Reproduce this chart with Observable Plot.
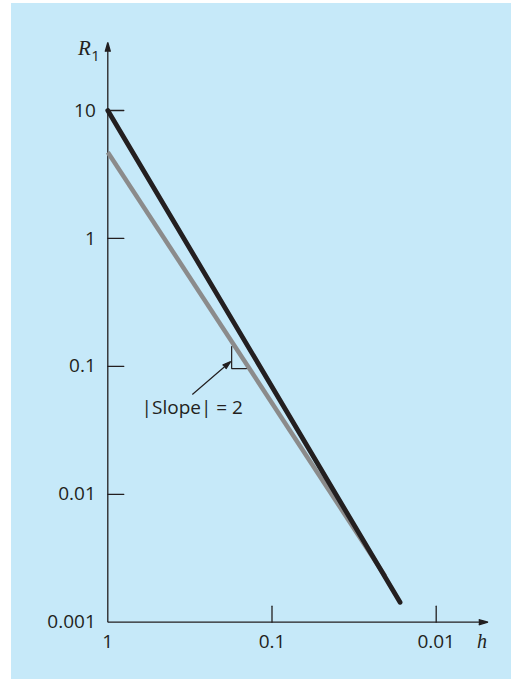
<!DOCTYPE html>
<html><head><meta charset="utf-8">
<script src="https://cdn.jsdelivr.net/npm/d3@7"></script>
<script src="https://cdn.jsdelivr.net/npm/@observablehq/plot@0.6"></script>
<style>
html,body{margin:0;padding:0;background:#fff;}
#chart{position:absolute;left:11px;top:3px;width:500px;height:676px;background:#c6e9f9;}
#chart svg{display:block;background:transparent;}
</style></head><body><div id="chart"></div>
<script>
// series
const blackH = [1, 0.0166];
const blackR = [10, 0.00143];
const grayH = [1, 0.0205];
const grayR = [4.72, 0.0023];
// ticks
const yTickValues = [10, 1, 0.1, 0.01];
const yLabelValues = [10, 1, 0.1, 0.01, 0.001];
const yLabelTexts = ["10", "1", "0.1", "0.01", "0.001"];
const xTickValues = [0.1, 0.01];
const xLabelValues = [1, 0.1, 0.01];
const xLabelTexts = ["1", "0.1", "0.01"];
// axes extents (origin and arrow tips)
const originH = 1, originR = 0.001;
const xAxisEndH = 0.00484;
const yAxisEndR = 34;
// slope annotation
const triH = [0.1761, 0.1761, 0.1432];
const triR = [0.1428, 0.0961, 0.0961];
const noteArrowH = [0.3057, 0.1786];
const noteArrowR = [0.0602, 0.109];
const noteLabel = "|Slope| = 2";
const noteLabelH = 0.623, noteLabelR = 0.0476;

const ink = "#231f20";
const sans = "'Open Sans', 'DejaVu Sans', sans-serif";
const serif = "'Liberation Serif', 'DejaVu Serif', serif";

const blackData = blackH.map((h, i) => ({h, r: blackR[i]}));
const grayData = grayH.map((h, i) => ({h, r: grayR[i]}));
const triData = triH.map((h, i) => ({h, r: triR[i]}));
const yLabels = yLabelValues.map((v, i) => ({v, t: yLabelTexts[i]}));
const xLabels = xLabelValues.map((v, i) => ({v, t: xLabelTexts[i]}));
const tickShape = {draw(ctx, l) { ctx.moveTo(0, 0); ctx.lineTo(0, -l); }};

const plot = Plot.plot({
  width: 500,
  height: 676,
  x: {type: "log", domain: [1, 0.01], range: [96.3, 424.7], axis: null},
  y: {type: "log", domain: [0.001, 10], range: [618.7, 107], axis: null},
  style: {background: "transparent"},
  marks: [
    // axes with arrows
    Plot.arrow([0], {x1: () => originH, y1: () => originR, x2: () => xAxisEndH, y2: () => originR,
      stroke: ink, fill: ink, strokeWidth: 1.3, headLength: 11, headAngle: 32, strokeLinecap: "butt"}),
    Plot.arrow([0], {x1: () => originH, y1: () => originR, x2: () => originH, y2: () => yAxisEndR,
      stroke: ink, fill: ink, strokeWidth: 1.3, headLength: 11, headAngle: 32, strokeLinecap: "butt"}),
    // inward ticks
    Plot.vector(yTickValues, {x: () => originH, y: d => d, length: 16, rotate: 90, anchor: "start",
      shape: tickShape, stroke: ink, strokeWidth: 1.3}),
    Plot.vector(xTickValues, {x: d => d, y: () => originR, length: 16, rotate: 0, anchor: "start",
      shape: tickShape, stroke: ink, strokeWidth: 1.3}),
    // tick labels
    Plot.text(yLabels, {x: () => originH, y: "v", text: "t", textAnchor: "end", dx: -12,
      fontSize: 19, fontFamily: sans, fill: ink}),
    Plot.text(xLabels, {x: "v", y: () => originR, text: "t", lineAnchor: "bottom", dy: 25.5,
      fontSize: 19, fontFamily: sans, fill: ink}),
    // axis titles
    Plot.text(["h"], {x: () => xAxisEndH, y: () => originR, text: d => d, textAnchor: "end", lineAnchor: "bottom",
      dx: -1, dy: 25.5, fontSize: 20, fontStyle: "italic", fontFamily: serif, fill: ink}),
    Plot.text(["R"], {x: () => originH, y: () => yAxisEndR, text: d => d, textAnchor: "end", lineAnchor: "bottom",
      dx: -17, dy: 12, fontSize: 21, fontStyle: "italic", fontFamily: serif, fill: ink}),
    Plot.text(["1"], {x: () => originH, y: () => yAxisEndR, text: d => d, textAnchor: "start", lineAnchor: "bottom",
      dx: -16.5, dy: 18, fontSize: 15, fontFamily: sans, fill: ink}),
    // series
    Plot.line(grayData, {x: "h", y: "r", stroke: "#8b8b8b", strokeWidth: 4.5, strokeLinecap: "butt"}),
    Plot.line(blackData, {x: "h", y: "r", stroke: ink, strokeWidth: 4.8, strokeLinecap: "round"}),
    // slope annotation
    Plot.line(triData, {x: "h", y: "r", stroke: ink, strokeWidth: 1.2, strokeLinejoin: "miter"}),
    Plot.arrow([0], {x1: () => noteArrowH[0], y1: () => noteArrowR[0], x2: () => noteArrowH[1], y2: () => noteArrowR[1],
      stroke: ink, fill: ink, strokeWidth: 1.2, headLength: 11, headAngle: 34, strokeLinecap: "butt"}),
    Plot.text([noteLabel], {x: () => noteLabelH, y: () => noteLabelR, text: d => d, textAnchor: "start",
      fontSize: 19, fontFamily: sans, fill: ink})
  ]
});
document.getElementById("chart").appendChild(plot);
</script></body></html>
